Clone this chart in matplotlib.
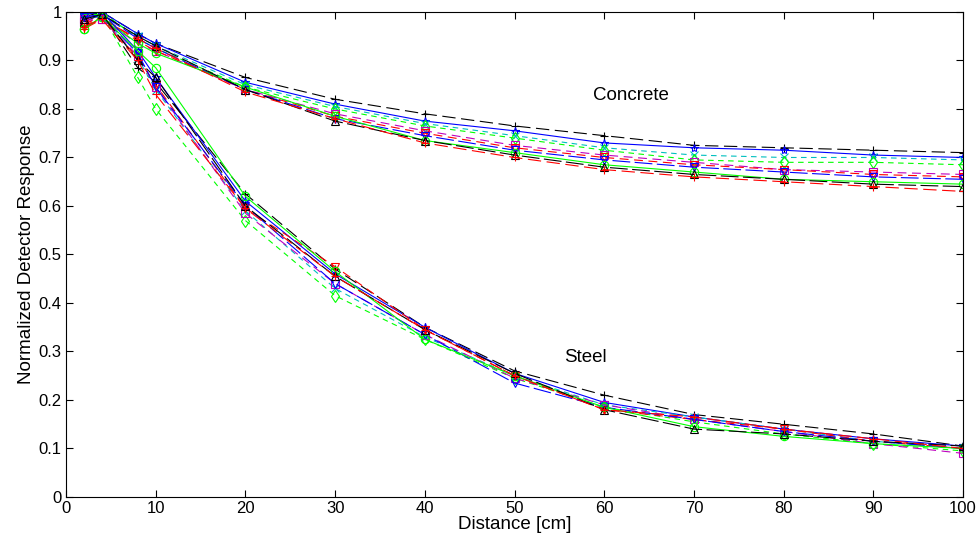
import numpy as np
import matplotlib.pyplot as plt

plt.rcParams["font.family"] = ["Liberation Sans", "DejaVu Sans"]

distance = [2, 4, 8, 10, 20, 30, 40, 50, 60, 70, 80, 90, 100]

concrete = [
    [0.99, 1.0, 0.955, 0.935, 0.865, 0.82, 0.79, 0.765, 0.745, 0.725, 0.72, 0.715, 0.71],
    [1.0, 1.0, 0.955, 0.935, 0.855, 0.81, 0.775, 0.755, 0.73, 0.72, 0.715, 0.705, 0.70],
    [0.99, 0.995, 0.95, 0.93, 0.85, 0.805, 0.77, 0.745, 0.72, 0.705, 0.70, 0.70, 0.695],
    [0.995, 1.0, 0.945, 0.925, 0.845, 0.80, 0.765, 0.74, 0.715, 0.695, 0.69, 0.69, 0.685],
    [0.98, 0.985, 0.935, 0.92, 0.84, 0.79, 0.755, 0.725, 0.705, 0.69, 0.675, 0.67, 0.665],
    [0.97, 0.99, 0.94, 0.92, 0.84, 0.785, 0.75, 0.72, 0.70, 0.685, 0.675, 0.665, 0.66],
    [0.99, 0.995, 0.945, 0.925, 0.84, 0.78, 0.745, 0.715, 0.695, 0.68, 0.67, 0.66, 0.655],
    [0.965, 0.99, 0.935, 0.915, 0.845, 0.785, 0.735, 0.71, 0.685, 0.67, 0.655, 0.65, 0.645],
    [0.98, 0.995, 0.95, 0.93, 0.84, 0.775, 0.735, 0.705, 0.68, 0.665, 0.655, 0.645, 0.64],
    [0.965, 0.985, 0.945, 0.925, 0.835, 0.78, 0.73, 0.70, 0.675, 0.66, 0.65, 0.64, 0.63],
]

steel = [
    [1.0, 0.995, 0.885, 0.855, 0.625, 0.47, 0.35, 0.26, 0.21, 0.17, 0.15, 0.13, 0.105],
    [0.995, 1.0, 0.92, 0.865, 0.61, 0.46, 0.35, 0.255, 0.195, 0.165, 0.14, 0.12, 0.105],
    [0.99, 0.99, 0.905, 0.84, 0.59, 0.43, 0.33, 0.25, 0.19, 0.165, 0.14, 0.115, 0.10],
    [0.995, 0.995, 0.865, 0.80, 0.57, 0.415, 0.325, 0.245, 0.185, 0.155, 0.13, 0.11, 0.095],
    [0.985, 0.985, 0.91, 0.845, 0.585, 0.44, 0.335, 0.245, 0.19, 0.16, 0.135, 0.11, 0.09],
    [0.975, 0.99, 0.905, 0.85, 0.595, 0.475, 0.345, 0.25, 0.18, 0.16, 0.14, 0.115, 0.10],
    [0.99, 0.99, 0.915, 0.845, 0.60, 0.44, 0.335, 0.235, 0.185, 0.16, 0.135, 0.115, 0.10],
    [0.965, 0.99, 0.92, 0.885, 0.62, 0.465, 0.325, 0.25, 0.185, 0.145, 0.125, 0.11, 0.10],
    [0.985, 0.995, 0.90, 0.865, 0.60, 0.455, 0.345, 0.255, 0.18, 0.14, 0.13, 0.115, 0.105],
    [0.97, 0.985, 0.90, 0.83, 0.595, 0.455, 0.345, 0.25, 0.18, 0.165, 0.14, 0.12, 0.10],
]

# color, marker, dash pattern (None = solid)
styles = [
    ("k", "+", (0, (12, 5))),
    ("b", "*", None),
    ("c", "x", (0, (5, 4))),
    ("#00ff00", "d", (0, (5, 4))),
    ("m", "s", (0, (8, 5))),
    ("r", "v", (0, (8, 5))),
    ("b", "v", (0, (16, 4))),
    ("#00ff00", "o", None),
    ("k", "^", (0, (16, 4))),
    ("r", "+", (0, (12, 5))),
]

fig = plt.figure(figsize=(9.79, 5.44), dpi=100, facecolor="w")
ax = fig.add_axes([0.0674, 0.0864, 0.9163, 0.8916])

for group in (concrete, steel):
    for vals, (c, m, ls) in zip(group, styles):
        ax.plot(distance, vals, color=c, marker=m, linestyle=ls if ls else "-",
                linewidth=0.8, markersize=6, markerfacecolor="none",
                markeredgecolor=c, markeredgewidth=0.8)

ax.text(58.75, 0.819, "Concrete", fontsize=13.5)
ax.text(55.5, 0.278, "Steel", fontsize=13.5)

ax.set_xlim(0, 100)
ax.set_ylim(0, 1)
ax.set_xticks(np.arange(0, 101, 10))
ax.set_yticks(np.arange(0, 1.01, 0.1))
ax.set_yticklabels(["0", "0.1", "0.2", "0.3", "0.4", "0.5", "0.6", "0.7", "0.8", "0.9", "1"])
ax.tick_params(direction="in", top=True, right=True, labelsize=12, length=5, pad=3)
ax.set_xlabel("Distance [cm]", fontsize=13.5, labelpad=0)
ax.set_ylabel("Normalized Detector Response", fontsize=13.5, labelpad=3)

plt.savefig("out.png", dpi=100)
